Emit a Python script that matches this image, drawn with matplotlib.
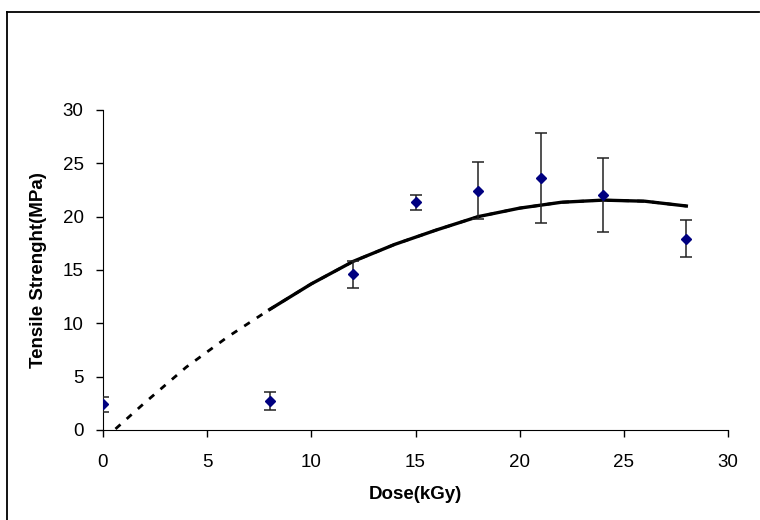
import numpy as np
import matplotlib
matplotlib.use("Agg")
from matplotlib import pyplot as plt
from matplotlib.lines import Line2D

plt.rcParams['font.family'] = ['Liberation Sans', 'DejaVu Sans']

# datos medidos
dosis = [0, 8, 12, 15, 18, 21, 24, 28]
tension = [2.41, 2.75, 14.6, 21.35, 22.45, 23.6, 22.05, 17.95]
error = [0.7, 0.85, 1.25, 0.72, 2.65, 4.2, 3.45, 1.75]

# linea de tendencia
tend_x = [0.6, 2, 4, 6, 8, 10, 12, 14, 16, 18, 20, 22, 24, 26, 28]
tend_y = [0.1, 2.55, 5.9, 8.75, 11.3, 13.7, 15.8, 17.4, 18.75, 20.0,
          20.8, 21.35, 21.55, 21.45, 21.0]

fig = plt.figure(figsize=(7.6, 5.2), dpi=100)
ax = fig.add_axes([103/760, 90/520, 625/760, 320/520])

# marco exterior (solo se ven los bordes izquierdo y superior)
x0 = 6.5/760
y0 = 1 - 11.5/520
fig.add_artist(Line2D([x0, x0], [0, y0], transform=fig.transFigure,
                      color='black', linewidth=1.3))
fig.add_artist(Line2D([x0, 0.999], [y0, y0], transform=fig.transFigure,
                      color='black', linewidth=1.3))

# tendencia punteada (todo el rango) y continua (desde 8 kGy)
ax.plot(tend_x, tend_y, color='black', linewidth=2, linestyle=(0, (2.4, 3.0)),
        zorder=2)
sol_x = [x for x in tend_x if x >= 8]
sol_y = [y for x, y in zip(tend_x, tend_y) if x >= 8]
ax.plot(sol_x, sol_y, color='black', linewidth=2.4, zorder=2)

ax.errorbar(dosis, tension, yerr=error, fmt='D', color='#000080',
            markersize=5.5, ecolor='#222222', elinewidth=1.1, capsize=4,
            capthick=1.1, zorder=3)

ax.set_xlim(0, 30)
ax.set_ylim(0, 30)
ax.set_xticks(np.arange(0, 31, 5))
ax.set_yticks(np.arange(0, 31, 5))
ax.spines['top'].set_visible(False)
ax.spines['right'].set_visible(False)
ax.spines['left'].set_clip_on(False)
ax.tick_params(direction='out', length=5, width=1, labelsize=13.5)
ax.tick_params(axis='y', pad=9)
ax.tick_params(axis='x', pad=12)
ax.set_xlabel("Dose(kGy)", fontsize=13.5, fontweight='bold', labelpad=11)
ax.set_ylabel("Tensile Strenght(MPa)", fontsize=13.5, fontweight='bold',
              labelpad=11)

fig.savefig("out.png", dpi=100)
